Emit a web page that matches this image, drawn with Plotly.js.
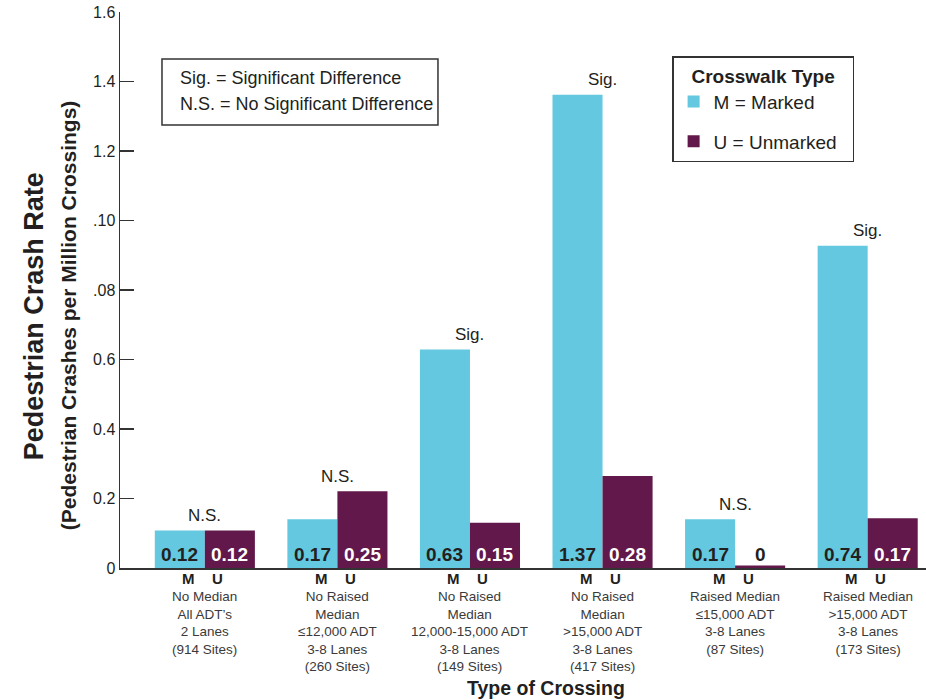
<!DOCTYPE html>
<html>
<head>
<meta charset="utf-8">
<script src="https://cdn.plot.ly/plotly-3.0.1.min.js"></script>
<style>html,body{margin:0;padding:0;background:#fff;}#chart{width:926px;height:700px;}</style>
</head>
<body>
<div id="chart"></div>
<script>
// ---- data ----
const categories = ['No Median 2 Lanes', 'No Raised Median ≤12,000 ADT', 'No Raised Median 12,000-15,000 ADT',
  'No Raised Median >15,000 ADT', 'Raised Median ≤15,000 ADT', 'Raised Median >15,000 ADT'];
const categoryLines = [
  ['No Median', 'All ADT’s', '2 Lanes', '(914 Sites)'],
  ['No Raised', 'Median', '≤12,000 ADT', '3-8 Lanes', '(260 Sites)'],
  ['No Raised', 'Median', '12,000-15,000 ADT', '3-8 Lanes', '(149 Sites)'],
  ['No Raised', 'Median', '>15,000 ADT', '3-8 Lanes', '(417 Sites)'],
  ['Raised Median', '≤15,000 ADT', '3-8 Lanes', '(87 Sites)'],
  ['Raised Median', '>15,000 ADT', '3-8 Lanes', '(173 Sites)']
];
const markedValues = [0.108, 0.140, 0.629, 1.362, 0.140, 0.927];
const unmarkedValues = [0.108, 0.221, 0.130, 0.265, 0.007, 0.143];
const markedLabels = ['0.12', '0.17', '0.63', '1.37', '0.17', '0.74'];
const unmarkedLabels = ['0.12', '0.25', '0.15', '0.28', '0', '0.17'];
const significance = ['N.S.', 'N.S.', 'Sig.', 'Sig.', 'N.S.', 'Sig.'];
const yTickValues = [0, 0.2, 0.4, 0.6, 0.8, 1.0, 1.2, 1.4, 1.6];
const yTickLabels = ['0', '0.2', '0.4', '0.6', '.08', '.10', '1.2', '1.4', '1.6'];
const seriesNames = ['M = Marked', 'U = Unmarked'];
const seriesLetters = ['M', 'U'];

// ---- styles ----
const SANS = '"Liberation Sans", Arial, sans-serif';
const INK = '#231f20';
const GREY = '#3a3a3a';
const CYAN = '#64c8e0';
const PLUM = '#62184a';

const traces = [
  {type: 'bar', name: seriesNames[0], x: categories, y: markedValues, marker: {color: CYAN},
   legendgroup: 'm', hoverinfo: 'y'},
  {type: 'bar', name: seriesNames[1], x: categories, y: unmarkedValues, marker: {color: PLUM},
   legendgroup: 'u', hoverinfo: 'y'}
];

const annotations = [];
categories.forEach((c, i) => {
  // value labels inside bars
  annotations.push({xref: 'x', yref: 'y', x: c, y: 0, xshift: -25, yshift: 14, yanchor: 'middle',
    showarrow: false, text: '<b>' + markedLabels[i] + '</b>',
    font: {family: SANS, size: 19, color: INK}});
  annotations.push({xref: 'x', yref: 'y', x: c, y: 0, xshift: 25, yshift: 14, yanchor: 'middle',
    showarrow: false, text: '<b>' + unmarkedLabels[i] + '</b>',
    font: {family: SANS, size: 19, color: unmarkedValues[i] > 0.05 ? '#ffffff' : INK}});
  // significance
  annotations.push({xref: 'x', yref: 'y', x: c, y: Math.max(markedValues[i], unmarkedValues[i]),
    yshift: 15, yanchor: 'middle', showarrow: false, text: significance[i],
    font: {family: SANS, size: 17, color: INK}});
  // M / U letters
  annotations.push({xref: 'x', yref: 'paper', x: c, y: 0, xshift: -16, yshift: -10, yanchor: 'middle',
    showarrow: false, text: '<b>' + seriesLetters[0] + '</b>', font: {family: SANS, size: 15, color: INK}});
  annotations.push({xref: 'x', yref: 'paper', x: c, y: 0, xshift: 13, yshift: -10, yanchor: 'middle',
    showarrow: false, text: '<b>' + seriesLetters[1] + '</b>', font: {family: SANS, size: 15, color: INK}});
  // category description (one wrapped text per category)
  annotations.push({xref: 'x', yref: 'paper', x: c, y: 0, yshift: -19, yanchor: 'top', valign: 'top',
    showarrow: false, text: categoryLines[i].join('<br>'), font: {family: SANS, size: 13.5, color: GREY}});
});

// axis titles
annotations.push({xref: 'paper', yref: 'paper', x: 0.529, y: 0, yshift: -120, yanchor: 'middle',
  showarrow: false, text: '<b>Type of Crossing</b>', font: {family: SANS, size: 19.5, color: INK}});
annotations.push({xref: 'paper', yref: 'paper', x: -0.1065, y: 0.453, xanchor: 'center', yanchor: 'middle',
  textangle: -90, showarrow: false, text: '<b>Pedestrian Crash Rate</b>', font: {family: SANS, size: 27, color: INK}});
annotations.push({xref: 'paper', yref: 'paper', x: -0.0645, y: 0.453, xanchor: 'center', yanchor: 'middle',
  textangle: -90, showarrow: false, text: '<b>(Pedestrian Crashes per Million Crossings)</b>',
  font: {family: SANS, size: 21, color: INK}});

// key box text
annotations.push({xref: 'paper', yref: 'paper', x: 0.072, y: 0.8813, xanchor: 'left', yanchor: 'middle',
  showarrow: false, text: 'Sig. = Significant Difference', font: {family: SANS, size: 18, color: INK}});
annotations.push({xref: 'paper', yref: 'paper', x: 0.072, y: 0.8345, xanchor: 'left', yanchor: 'middle',
  showarrow: false, text: 'N.S. = No Significant Difference', font: {family: SANS, size: 18, color: INK}});

const layout = {
  width: 926, height: 700,
  margin: {l: 120, r: 0, t: 12, b: 132},
  paper_bgcolor: '#ffffff', plot_bgcolor: '#ffffff',
  barmode: 'group', bargap: 0.245, bargroupgap: 0,
  xaxis: {type: 'category', range: [-0.64, 5.44], showticklabels: false, ticks: '', showgrid: false,
    zeroline: false, showline: true, linecolor: '#333', linewidth: 1.5, fixedrange: true},
  yaxis: {range: [0, 1.6], tickvals: yTickValues, ticktext: yTickLabels, ticks: 'inside', ticklen: 14,
    tickwidth: 1.3, tickcolor: '#333', showgrid: false, zeroline: false, showline: true,
    linecolor: '#333', linewidth: 1.5, tickfont: {family: SANS, size: 16, color: INK}, fixedrange: true},
  showlegend: true,
  legend: {x: 0.685, y: 0.92, xanchor: 'left', yanchor: 'top', bordercolor: '#333', borderwidth: 1.5,
    bgcolor: '#ffffff', tracegroupgap: 12, font: {family: SANS, size: 19, color: INK},
    title: {text: '&nbsp;&nbsp;&nbsp;<b>Crosswalk Type</b>&nbsp;&nbsp;&nbsp;', side: 'top center',
      font: {family: SANS, size: 19, color: INK}}},
  shapes: [
    {type: 'rect', xref: 'paper', yref: 'paper', x0: 0.0521, x1: 0.3945, y0: 0.7968, y1: 0.9155,
     line: {color: '#333', width: 1.5}, fillcolor: 'rgba(0,0,0,0)'}
  ],
  annotations: annotations
};

Plotly.newPlot('chart', traces, layout, {displayModeBar: false, staticPlot: true});
</script>
</body>
</html>
